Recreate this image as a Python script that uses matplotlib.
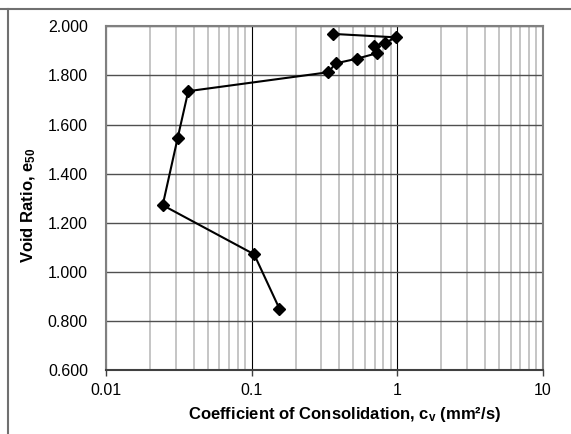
import matplotlib
matplotlib.use("Agg")
import matplotlib.pyplot as plt
from matplotlib.lines import Line2D
from matplotlib.ticker import NullFormatter, LogLocator

plt.rcParams['font.family'] = ['Liberation Sans', 'DejaVu Sans']
plt.rcParams['mathtext.default'] = 'regular'

cv = [0.363, 0.978, 0.826, 0.694, 0.721, 0.526, 0.377, 0.336,
      0.0367, 0.0310, 0.0245, 0.104, 0.155]
e50 = [1.969, 1.955, 1.933, 1.920, 1.890, 1.868, 1.849, 1.813,
       1.736, 1.544, 1.272, 1.072, 0.851]

x_ticks = [0.01, 0.1, 1, 10]
x_tick_labels = ['0.01', '0.1', '1', '10']
y_ticks = [0.6, 0.8, 1.0, 1.2, 1.4, 1.6, 1.8, 2.0]

fig = plt.figure(figsize=(5.71, 4.34), dpi=100)
ax = fig.add_axes([106/571, 1-370.3/434, (543-106)/571, (370.3-26.3)/434])

ax.set_xscale('log')
ax.set_xlim(0.01, 10)
ax.set_ylim(0.6, 2.0)

ax.xaxis.set_minor_locator(LogLocator(base=10, subs=range(2, 10)))
ax.xaxis.set_minor_formatter(NullFormatter())
ax.grid(which='minor', axis='x', color='#c0c0c0', lw=1.3, zorder=0)
ax.grid(which='major', axis='x', color='#000000', lw=0.8, zorder=1)
ax.grid(which='major', axis='y', color='#505050', lw=1.0, zorder=1)

ax.set_xticks(x_ticks)
ax.set_xticklabels(x_tick_labels)
ax.set_yticks(y_ticks)
ax.set_yticklabels([f'{v:.3f}' for v in y_ticks])

ax.tick_params(axis='x', which='major', direction='out', length=4, width=1,
               color='#404040', pad=5, labelsize=11.5)
ax.tick_params(axis='x', which='minor', length=0)
ax.tick_params(axis='y', which='major', length=0, pad=13, labelsize=11.5)

for s in ['left', 'right', 'top']:
    ax.spines[s].set_color('#808080')
    ax.spines[s].set_linewidth(1.5)
ax.spines['bottom'].set_color('#404040')
ax.spines['bottom'].set_linewidth(1.5)

ax.plot(cv, e50, color='black', lw=1.5, marker='D', markersize=6.5,
        markerfacecolor='black', markeredgecolor='black', zorder=5, clip_on=False)

ax.set_ylabel('Void Ratio, e$_{50}$', fontsize=12, fontweight='bold')
ax.yaxis.set_label_coords(-(106-38)/437, 0.48)
fig.text(345/571, 1-415/434, 'Coefficient of Consolidation, c$_v$ (mm²/s)',
         ha='center', va='center', fontsize=12, fontweight='bold')

fig.add_artist(Line2D([0, 1], [1-9/434, 1-9/434], transform=fig.transFigure,
                      color='#707070', lw=1.5))
fig.add_artist(Line2D([8/571, 8/571], [0, 1-9/434], transform=fig.transFigure,
                      color='#707070', lw=1.5))

fig.savefig('out.png', dpi=100)
